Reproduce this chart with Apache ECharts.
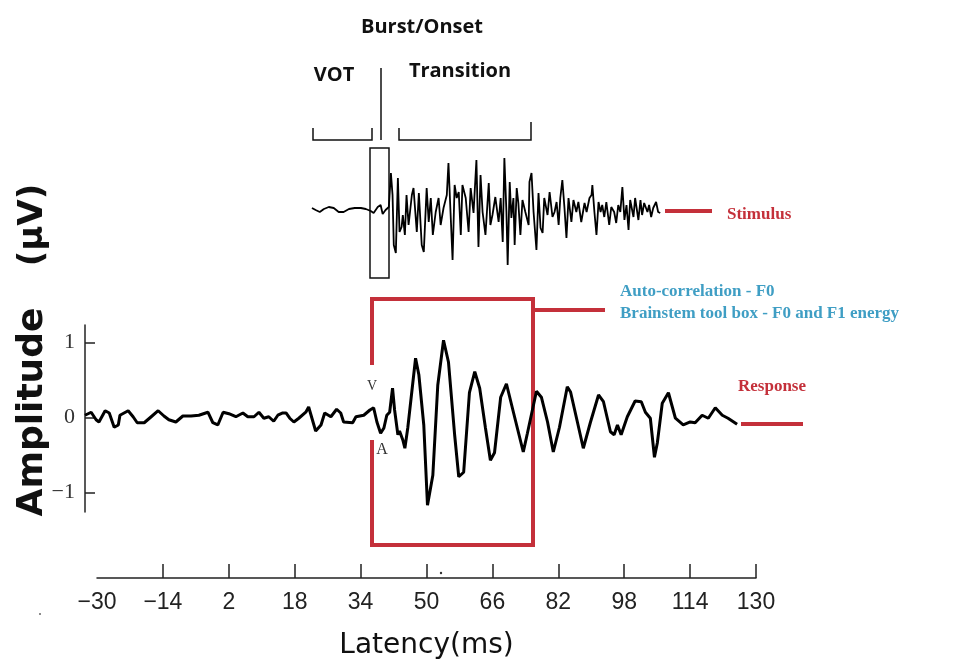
<!DOCTYPE html>
<html>
<head>
<meta charset="utf-8">
<script src="https://cdn.jsdelivr.net/npm/echarts@6/dist/echarts.min.js"></script>
<style>
html, body { margin: 0; padding: 0; background: #fff; }
#chart { width: 953px; height: 661px; }
</style>
</head>
<body>
<div id="chart"></div>
<script>
// response (uV)
const responseMs = [-33.2,-31.7,-30.5,-29.8,-28.3,-27.3,-26.1,-25.1,-24.7,-22.7,-21.5,-20.5,-18.8,-17.1,-15.4,-14.0,-12.8,-11.1,-9.4,-7.4,-5.5,-3.3,-2.1,-0.9,0.4,1.8,3.5,5.2,6.4,7.9,9.1,10.3,11.5,12.7,13.7,14.9,15.7,16.6,17.6,18.8,20.5,21.2,22.9,24.2,25.1,26.6,28.0,29.0,29.7,31.9,32.7,34.6,36.1,37.0,37.8,38.7,39.5,40.2,40.9,41.6,42.1,42.9,43.3,44.1,44.6,45.3,47.2,48.0,49.2,50.1,51.4,52.6,54.0,55.2,56.7,57.7,58.9,60.3,61.6,62.8,64.2,65.4,66.4,67.9,69.3,71.0,73.4,74.4,76.6,77.8,79.3,80.7,82.2,84.1,84.9,86.6,88.0,89.7,91.7,92.9,94.6,95.5,96.3,97.2,98.7,100.6,102.1,103.1,104.3,105.3,106.0,107.2,108.7,110.4,112.3,114.0,115.2,116.9,118.4,120.1,121.8,123.2,125.4];
const responseUv = [0.03,0.07,-0.03,-0.06,0.09,0.06,-0.13,-0.10,0.03,0.09,0.01,-0.07,-0.07,0.01,0.09,0.02,-0.03,-0.06,0.02,0.02,0.03,0.07,-0.07,-0.10,0.07,0.05,0.01,0.06,0.01,0.01,0.07,-0.01,0.01,-0.05,0.03,0.06,0.06,-0.01,-0.06,-0.01,0.07,0.14,-0.18,-0.10,0.06,0.01,0.11,0.06,-0.06,-0.07,0.01,0.03,0.10,0.13,-0.06,-0.21,-0.14,0.03,0.07,0.39,0.10,-0.23,-0.18,-0.30,-0.41,-0.14,0.79,0.57,-0.10,-1.17,-0.77,0.43,1.03,0.74,-0.23,-0.79,-0.73,0.33,0.61,0.39,-0.14,-0.57,-0.47,0.27,0.45,0.07,-0.46,-0.21,0.35,0.27,-0.06,-0.46,-0.13,0.41,0.34,-0.07,-0.41,-0.07,0.30,0.21,-0.19,-0.23,-0.10,-0.23,0.01,0.22,0.21,0.07,-0.01,-0.53,-0.34,0.19,0.33,-0.01,-0.10,-0.06,-0.07,0.03,-0.01,0.13,0.03,-0.01,-0.09];

// stimulus waveform (arbitrary units) on the same latency scale
const stimulusMs = [22.0,22.9,23.9,24.9,26.1,27.3,28.5,29.7,31.0,32.4,33.9,35.1,36.3,37.0,38.0,38.7,39.2,39.9,40.7,41.2,41.6,41.9,42.4,42.9,43.3,43.8,44.1,44.6,45.0,45.5,46.3,46.7,47.5,48.0,48.7,49.2,49.9,50.4,50.9,51.4,52.1,52.8,53.3,54.0,54.8,55.2,55.7,56.2,56.7,57.2,57.7,58.2,58.6,59.4,60.1,60.6,61.3,62.0,62.5,63.0,63.5,64.2,65.0,65.4,65.9,66.6,67.4,67.9,68.4,68.8,69.3,69.6,70.1,70.5,71.0,71.3,71.8,72.2,72.7,73.2,73.9,74.7,74.9,75.4,75.9,76.6,77.1,77.6,78.1,78.5,79.3,79.8,80.5,81.0,81.5,82.0,82.4,82.9,83.4,83.9,84.4,85.1,85.6,86.3,86.8,87.5,88.3,88.8,89.5,90.0,90.2,90.7,91.2,91.7,92.2,92.6,93.1,93.6,94.3,94.8,95.5,96.0,96.5,97.0,97.5,98.0,98.5,99.0,99.4,100.2,100.6,101.4,101.9,102.3,102.8,103.6,104.0,104.5,105.0,105.7,106.2,106.7];
const stimulusAmp = [0.04,0,-0.04,0.02,0.06,0.04,-0.04,-0.04,0.02,0.04,0.04,0.02,-0.02,-0.06,0.06,0.10,-0.08,0,0.06,0.74,0.30,-0.70,-0.86,0.64,-0.44,-0.34,-0.10,-0.50,0.30,-0.30,0.30,0.44,-0.44,0.34,-0.70,-0.84,0.44,-0.24,0.24,-0.50,-0.04,0.24,-0.30,0.04,0.30,0.94,-0.04,-1.00,0.50,0.24,0.36,-0.50,0.50,0.24,-0.44,0.44,-0.06,1.00,-0.74,0.70,-0.04,-0.50,0.54,-0.30,-0.10,0.26,-0.24,0.24,-0.64,1.04,-0.04,-1.10,0.56,-0.16,0.24,-0.70,0.44,0.14,-0.50,0.20,-0.04,-0.30,0.56,0.74,-0.04,-0.80,0.34,-0.36,-0.46,0.24,-0.10,0.36,-0.14,-0.04,0.16,-0.30,0.24,0.60,0.06,-0.56,0.24,-0.24,0.20,-0.04,0.16,-0.24,0.14,-0.04,0.24,0.30,0.50,-0.04,-0.50,0.16,-0.04,0.10,-0.14,0.16,-0.30,0.06,-0.04,-0.26,0.10,-0.04,0.46,-0.20,0.10,-0.40,0.20,-0.14,0.24,-0.20,0.20,-0.10,0.14,-0.04,0.10,-0.14,0.04,0.16,-0.04,-0.06];

const latencyLabels = [-30, -14, 2, 18, 34, 50, 66, 82, 98, 114, 130];
const latencyTicks = [-14, 2, 18, 34, 50, 66, 82, 98, 114, 130];
const amplitudeTicks = [-1, 0, 1];

const RED = '#c4303a';
const TEAL = '#3f9ec4';

function pairs(xs, ys) {
    return xs.map((x, i) => [x, ys[i]]);
}

function minusSign(v) {
    return v < 0 ? '\u2212' + Math.abs(v) : String(v);
}

function line(x1, y1, x2, y2, color, width) {
    return { type: 'line', shape: { x1, y1, x2, y2 }, style: { stroke: color, lineWidth: width } };
}

function polyline(points, color, width) {
    return { type: 'polyline', shape: { points }, style: { stroke: color, lineWidth: width, fill: null } };
}

function text(str, x, y, font, color, align, rotation) {
    return {
        type: 'text', x, y, rotation: rotation || 0,
        style: { text: str, font, fill: color, textAlign: align || 'left', textVerticalAlign: 'middle' }
    };
}

function createAnnotations() {
    const serifBold = 'bold 17px "Liberation Serif", serif';
    const sansBold = 'bold 20px "Open Sans", "DejaVu Sans", sans-serif';
    return [
        // top labels and brackets
        text('Burst/Onset', 422, 27, sansBold, '#111', 'center'),
        text('VOT', 334, 75, sansBold, '#111', 'center'),
        text('Transition', 460, 71, sansBold, '#111', 'center'),
        polyline([[313, 128], [313, 140], [372, 140], [372, 128]], '#111', 1.5),
        line(381, 68, 381, 140, '#111', 1.5),
        polyline([[399, 128], [399, 140], [531, 140], [531, 122]], '#111', 1.5),
        { type: 'rect', shape: { x: 370, y: 148, width: 19, height: 130 }, style: { stroke: '#111', lineWidth: 1.5, fill: null } },

        // stimulus marker
        line(665, 211, 712, 211, RED, 4),
        text('Stimulus', 727, 215, serifBold, RED),

        // analysis window
        polyline([[372, 365], [372, 299], [533, 299], [533, 545], [372, 545], [372, 440]], RED, 4),
        line(533, 310, 605, 310, RED, 4),
        text('Auto-correlation - F0', 620, 292, serifBold, TEAL),
        text('Brainstem tool box - F0 and F1 energy', 620, 314, serifBold, TEAL),

        // response marker
        line(741, 424, 803, 424, RED, 4),
        text('Response', 738, 387, serifBold, RED),

        // wave labels
        text('V', 372, 386, '14px "Liberation Serif", serif', '#333', 'center'),
        text('A', 382, 450, '16px "Liberation Serif", serif', '#333', 'center'),

        // y title
        text('Amplitude', 33, 412, 'bold 36px "DejaVu Sans", sans-serif', '#111', 'center', Math.PI / 2),
        text('(\u03bcV)', 33, 225, 'bold 34px "DejaVu Sans", sans-serif', '#111', 'center', Math.PI / 2),

        { type: 'circle', shape: { cx: 441, cy: 573, r: 1.2 }, style: { fill: '#333' } },
        { type: 'circle', shape: { cx: 40, cy: 614, r: 1 }, style: { fill: '#666' } }
    ];
}

function createOption() {
    return {
        backgroundColor: '#fff',
        animation: false,
        grid: [
            { left: 85, right: 197, top: 325, bottom: 149 },   // response
            { left: 85, right: 197, top: 145, height: 130 },   // stimulus
            { left: 97, right: 197, top: 572, bottom: 79 }     // latency axis
        ],
        xAxis: [
            { type: 'value', gridIndex: 0, min: -33.2, max: 130, show: false },
            { type: 'value', gridIndex: 1, min: -33.2, max: 130, show: false },
            {
                type: 'value', gridIndex: 2, min: -30, max: 130, position: 'bottom',
                name: 'Latency(ms)', nameLocation: 'middle', nameGap: 54,
                nameTextStyle: { fontFamily: 'DejaVu Sans', fontSize: 28, color: '#111' },
                axisLine: { show: true, onZero: false, lineStyle: { color: '#222', width: 1.5 } },
                axisTick: { show: true, inside: true, length: 14, customValues: latencyTicks, lineStyle: { color: '#222', width: 1.5 } },
                axisLabel: {
                    customValues: latencyLabels, margin: 13, formatter: minusSign,
                    fontFamily: '"Liberation Sans", sans-serif', fontSize: 23, color: '#222'
                },
                splitLine: { show: false }
            }
        ],
        yAxis: [
            {
                type: 'value', gridIndex: 0, min: -1.26, max: 1.233,
                axisLine: { show: true, onZero: false, lineStyle: { color: '#222', width: 1.5 } },
                axisTick: { show: true, inside: true, length: 10, customValues: amplitudeTicks, lineStyle: { color: '#222', width: 1.5 } },
                axisLabel: {
                    customValues: amplitudeTicks, margin: 10, formatter: minusSign,
                    fontFamily: '"Liberation Serif", serif', fontSize: 22, color: '#333'
                },
                splitLine: { show: false }
            },
            { type: 'value', gridIndex: 1, min: -1.3, max: 1.3, show: false },
            { type: 'value', gridIndex: 2, show: false }
        ],
        series: [
            {
                name: 'Response', type: 'line', xAxisIndex: 0, yAxisIndex: 0,
                data: pairs(responseMs, responseUv),
                symbol: 'none', lineStyle: { color: '#000', width: 3 }
            },
            {
                name: 'Stimulus', type: 'line', xAxisIndex: 1, yAxisIndex: 1,
                data: pairs(stimulusMs, stimulusAmp),
                symbol: 'none', lineStyle: { color: '#000', width: 1.8 }
            }
        ],
        graphic: createAnnotations()
    };
}

const chart = echarts.init(document.getElementById('chart'));
chart.setOption(createOption());
</script>
</body>
</html>
